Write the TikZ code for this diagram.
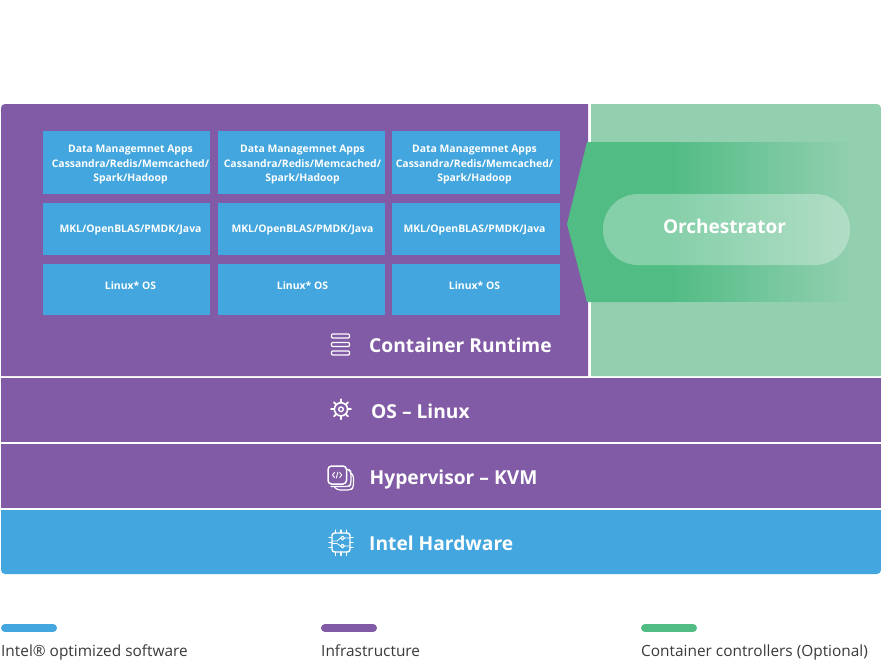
\documentclass[tikz,border=0pt]{standalone}
\usepackage{fontspec}
\usetikzlibrary{calc}
\setmainfont{Open Sans}
\definecolor{pur}{HTML}{815BA5}
\definecolor{blu}{HTML}{43A6DE}
\definecolor{grn}{HTML}{52BC85}
\definecolor{lgrn}{HTML}{93D0B0}
\definecolor{txt}{HTML}{3A3A3A}
\tikzset{
  x=1pt,y=-1pt,
  cellbox/.style={fill=blu},
  celltxt/.style={text=white,font=\fontsize{10.4}{14.5}\selectfont\bfseries,align=center,inner sep=0pt,anchor=center},
  bandtxt/.style={text=white,font=\fontsize{19.2}{22}\selectfont\bfseries,inner sep=0pt,anchor=base west},
  legtxt/.style={text=txt,font=\fontsize{15.4}{17}\selectfont,inner sep=0pt,anchor=base west},
  legbar/.style={line width=8pt,line cap=round},
  ico/.style={draw=white,line width=1.2pt,line cap=round,line join=round},
}
\newcommand{\cellrow}[4]{%
  \path[cellbox] (42.5,#1) rectangle (210,#2);
  \path[cellbox] (218,#1) rectangle (385,#2);
  \path[cellbox] (392,#1) rectangle (560,#2);
  \node[celltxt] (#3a) at (130.5,#4) {\csname celltext#3\endcsname};
  \node[celltxt] (#3b) at (302.5,#4) {\csname celltext#3\endcsname};
  \node[celltxt] (#3c) at (474.5,#4) {\csname celltext#3\endcsname};
}
\newcommand{\celltextapp}{Data Managemnet Apps\\Cassandra/Redis/Memcached/\\Spark/Hadoop}
\newcommand{\celltextlib}{MKL/OpenBLAS/PMDK/Java}
\newcommand{\celltextos}{Linux* OS}
\begin{document}
\begin{tikzpicture}
\useasboundingbox (0,0) rectangle (881,661);
\fill[white] (0,0) rectangle (881,661);
% panels
\fill[pur,rounded corners=4pt] (1,376) -- (1,104) -- (20,104) [sharp corners] -- (588,104) -- (588,376) -- cycle;
\fill[pur] (1,370) rectangle (588,376);
\fill[lgrn,rounded corners=4pt] (591,104) -- (881,104) -- (881,200) [sharp corners] -- (881,376) -- (591,376) -- cycle;
\fill[pur] (1,378) rectangle (881,442);
\fill[pur] (1,444) rectangle (881,508);
\fill[blu,rounded corners=4pt] (1,510) -- (1,574) -- (881,574) -- (881,510) -- cycle;
\fill[blu] (1,510) rectangle (881,516);
% cells
\cellrow{131}{194}{app}{165}
\cellrow{203}{254.5}{lib}{230}
\cellrow{263.5}{314.5}{os}{286}
% orchestrator arrow
\fill[grn] (567,224) -- (587,142) -- (672,142) -- (672,302) -- (587,302) -- cycle;
\begin{scope}
\clip (671.5,142) rectangle (855,301.4);
\fill[left color=grn,right color=lgrn,draw=none] (671.5,130) rectangle (855,310);
\end{scope}
\fill[white,opacity=.3,rounded corners=35pt] (603,194) rectangle (850,265);
\node[text=white,font=\fontsize{19}{22}\selectfont\bfseries,inner sep=0pt] (orch) at (724.5,226) {Orchestrator};
% band labels
\node[bandtxt] (runtime) at (369,352) {Container Runtime};
\node[bandtxt] (oslinux) at (371,418) {OS – Linux};
\node[bandtxt] (hyper) at (369.5,484) {Hypervisor – KVM};
\node[bandtxt] (hw) at (369,550) {Intel Hardware};
% server icon
\foreach \yy in {334,342.5,351}
  \draw[ico,rounded corners=1pt] (331.5,\yy) rectangle (349.5,\yy+4);
% gear icon
\draw[ico,line width=1.6pt] (341,409.3) circle (6.6);
\draw[ico,line width=1.4pt] (341,409.3) circle (2.3);
\foreach \a in {0,45,...,315}{
  \draw[ico,line width=1.7pt] ($(341,409.3)+(\a:7)$) -- ($(341,409.3)+(\a:10)$);
}
% hypervisor icon
\draw[ico,rounded corners=3pt] (346,469) -- (349,469.5) -- (351,472) -- (351,484) -- (349,486.5) -- (331,486.5);
\draw[ico,rounded corners=3pt] (351,473) -- (353.5,475) -- (353.5,487) -- (351,490) -- (337,490) -- (334.5,487);
\draw[ico,line width=1.5pt,fill=pur,rounded corners=3.5pt] (328,466) rectangle (346.5,484);
\draw[ico,line width=.9pt] (334.5,472.5) -- (332.5,475) -- (334.5,477.5) (337.9,472) -- (336.3,478) (339.7,472.5) -- (341.7,475) -- (339.7,477.5);
% chip icon
\draw[ico,line width=1.4pt,rounded corners=2.5pt] (332,533) rectangle (350,552);
\foreach \p in {335.5,341,346.5}{
  \draw[ico] (\p,530) -- (\p,533);
  \draw[ico] (\p,552) -- (\p,555.5);
}
\foreach \p in {537.5,542.5,547.5}{
  \draw[ico] (329,\p) -- (332,\p);
  \draw[ico] (350,\p) -- (353,\p);
}
\draw[ico,line width=1pt] (342.5,538) circle (1.9) (342.5,546) circle (1.9);
\draw[ico,line width=.8pt] (344.4,538) -- (350,538) (344.4,546) -- (350,546) (340.6,538) -- (337,541) -- (332,541) (340.6,546) -- (337,543.5) -- (332,543.5);
% legend
\draw[legbar,blu] (5,628) -- (53,628);
\draw[legbar,pur] (325,628) -- (373,628);
\draw[legbar,grn] (645,628) -- (693,628);
\node[legtxt] (l1) at (1,656) {Intel® optimized software};
\node[legtxt] (l2) at (321,656) {Infrastructure};
\node[legtxt] (l3) at (641,656) {Container controllers (Optional)};
\end{tikzpicture}
\end{document}
